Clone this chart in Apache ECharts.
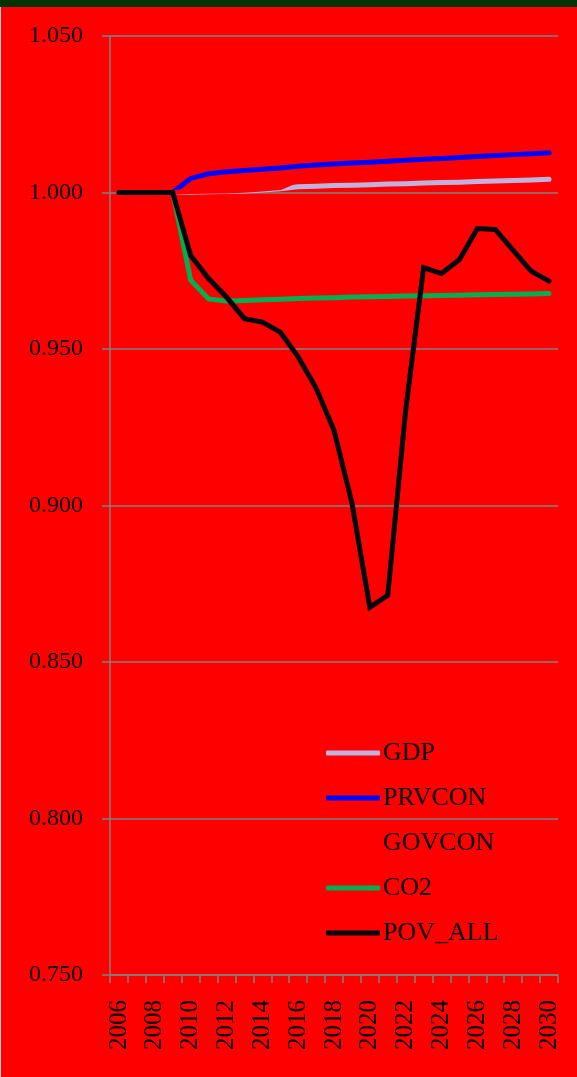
<!DOCTYPE html>
<html>
<head>
<meta charset="utf-8">
<script src="https://cdn.jsdelivr.net/npm/echarts@6/dist/echarts.min.js"></script>
<style>
  html, body { margin: 0; padding: 0; background: #ff0000; }
  #wrap { position: relative; width: 577px; height: 1077px; }
  #band { position: absolute; left: 0; top: 0; width: 577px; height: 7px; background: #003300; z-index: 2; }
  #edge { position: absolute; left: 0; top: 7px; width: 1px; height: 1070px; background: #e8d8d8; z-index: 2; }
  #chart { position: absolute; left: 0; top: 0; width: 577px; height: 1077px; }
</style>
</head>
<body>
<div id="wrap">
  <div id="chart"></div>
  <div id="band"></div>
  <div id="edge"></div>
</div>
<script>
// Years on the category axis
const years = ['2006','2007','2008','2009','2010','2011','2012','2013','2014','2015','2016','2017',
               '2018','2019','2020','2021','2022','2023','2024','2025','2026','2027','2028','2029','2030'];

// Indexed values (baseline = 1.000)
const gdp = [1.0000,1.0000,1.0000,1.0000,1.0001,1.0002,1.0003,1.0005,1.0008,1.0012,1.0018,1.0020,
             1.0022,1.0023,1.0025,1.0027,1.0028,1.0030,1.0032,1.0033,1.0035,1.0037,1.0038,1.0040,1.0042];
const prvcon = [1.0000,1.0000,1.0000,1.0000,1.0045,1.0060,1.0066,1.0070,1.0074,1.0078,1.0084,1.0088,
                1.0091,1.0094,1.0097,1.0100,1.0103,1.0106,1.0109,1.0112,1.0115,1.0118,1.0121,1.0124,1.0127];
const govcon = [1.0000,1.0000,1.0000,1.0000,1.0003,1.0004,1.0005,1.0007,1.0011,1.0016,1.0040,1.0043,
                1.0046,1.0049,1.0052,1.0055,1.0058,1.0061,1.0064,1.0067,1.0070,1.0073,1.0076,1.0079,1.0082];
const co2 = [1.0000,1.0000,1.0000,1.0000,0.9720,0.9660,0.9653,0.9655,0.9657,0.9659,0.9661,0.9663,
             0.9664,0.9666,0.9667,0.9668,0.9669,0.9670,0.9671,0.9672,0.9673,0.9674,0.9675,0.9676,0.9677];
const povAll = [1.0000,1.0000,1.0000,1.0000,0.9799,0.9725,0.9666,0.9597,0.9586,0.9554,0.9475,0.9375,
                0.9240,0.9008,0.8675,0.8713,0.9304,0.9760,0.9741,0.9786,0.9885,0.9882,0.9815,0.9749,0.9717];

// Value axis range
const yMin = 0.75, yMax = 1.05, yStep = 0.05;

const seriesDefs = [
  { name: 'GDP',     data: gdp,    color: '#bfb2df' },
  { name: 'PRVCON',  data: prvcon, color: '#0000ff' },
  { name: 'GOVCON',  data: govcon, color: '#ff0000' },
  { name: 'CO2',     data: co2,    color: '#00b050' },
  { name: 'POV_ALL', data: povAll, color: '#020410' }
];

const serif = '"Liberation Serif", "DejaVu Serif", serif';
const gray = '#808080';

const chart = echarts.init(document.getElementById('chart'), null, { renderer: 'canvas' });
chart.setOption({
  animation: false,
  backgroundColor: '#ff0000',
  grid: { left: 110, right: 19, top: 36, bottom: 102, containLabel: false },
  legend: {
    orient: 'vertical',
    left: 326,
    top: 740,
    padding: 0,
    itemWidth: 54,
    itemHeight: 5,
    itemGap: 19,
    icon: 'roundRect',
    textStyle: { fontFamily: serif, fontSize: 26, color: '#000', lineHeight: 25, padding: [0, 0, 0, -2] },
    data: seriesDefs.map(s => s.name)
  },
  xAxis: {
    type: 'category',
    data: years,
    boundaryGap: true,
    axisLine: { show: true, lineStyle: { color: gray, width: 1.5 } },
    axisTick: { show: true, interval: 0, length: 8, lineStyle: { color: gray, width: 1.5 } },
    axisLabel: { interval: 1, rotate: 90, margin: 25, fontFamily: serif, fontSize: 25, color: '#000' },
    splitLine: { show: false }
  },
  yAxis: {
    type: 'value',
    min: yMin,
    max: yMax,
    interval: yStep,
    axisLine: { show: true, lineStyle: { color: gray, width: 1.5 } },
    axisTick: { show: true, length: 8, lineStyle: { color: gray, width: 1.5 } },
    axisLabel: { margin: 27, fontFamily: serif, fontSize: 24, color: '#000',
                 formatter: v => v.toFixed(3) },
    splitLine: { show: true, lineStyle: { color: gray, width: 1.5 } }
  },
  series: seriesDefs.map(s => ({
    name: s.name,
    type: 'line',
    data: s.data,
    symbol: 'none',
    showSymbol: false,
    color: s.color,
    itemStyle: { color: s.color },
    lineStyle: { color: s.color, width: 5, cap: 'round', join: 'miter' },
    emphasis: { disabled: true }
  }))
});
</script>
</body>
</html>
